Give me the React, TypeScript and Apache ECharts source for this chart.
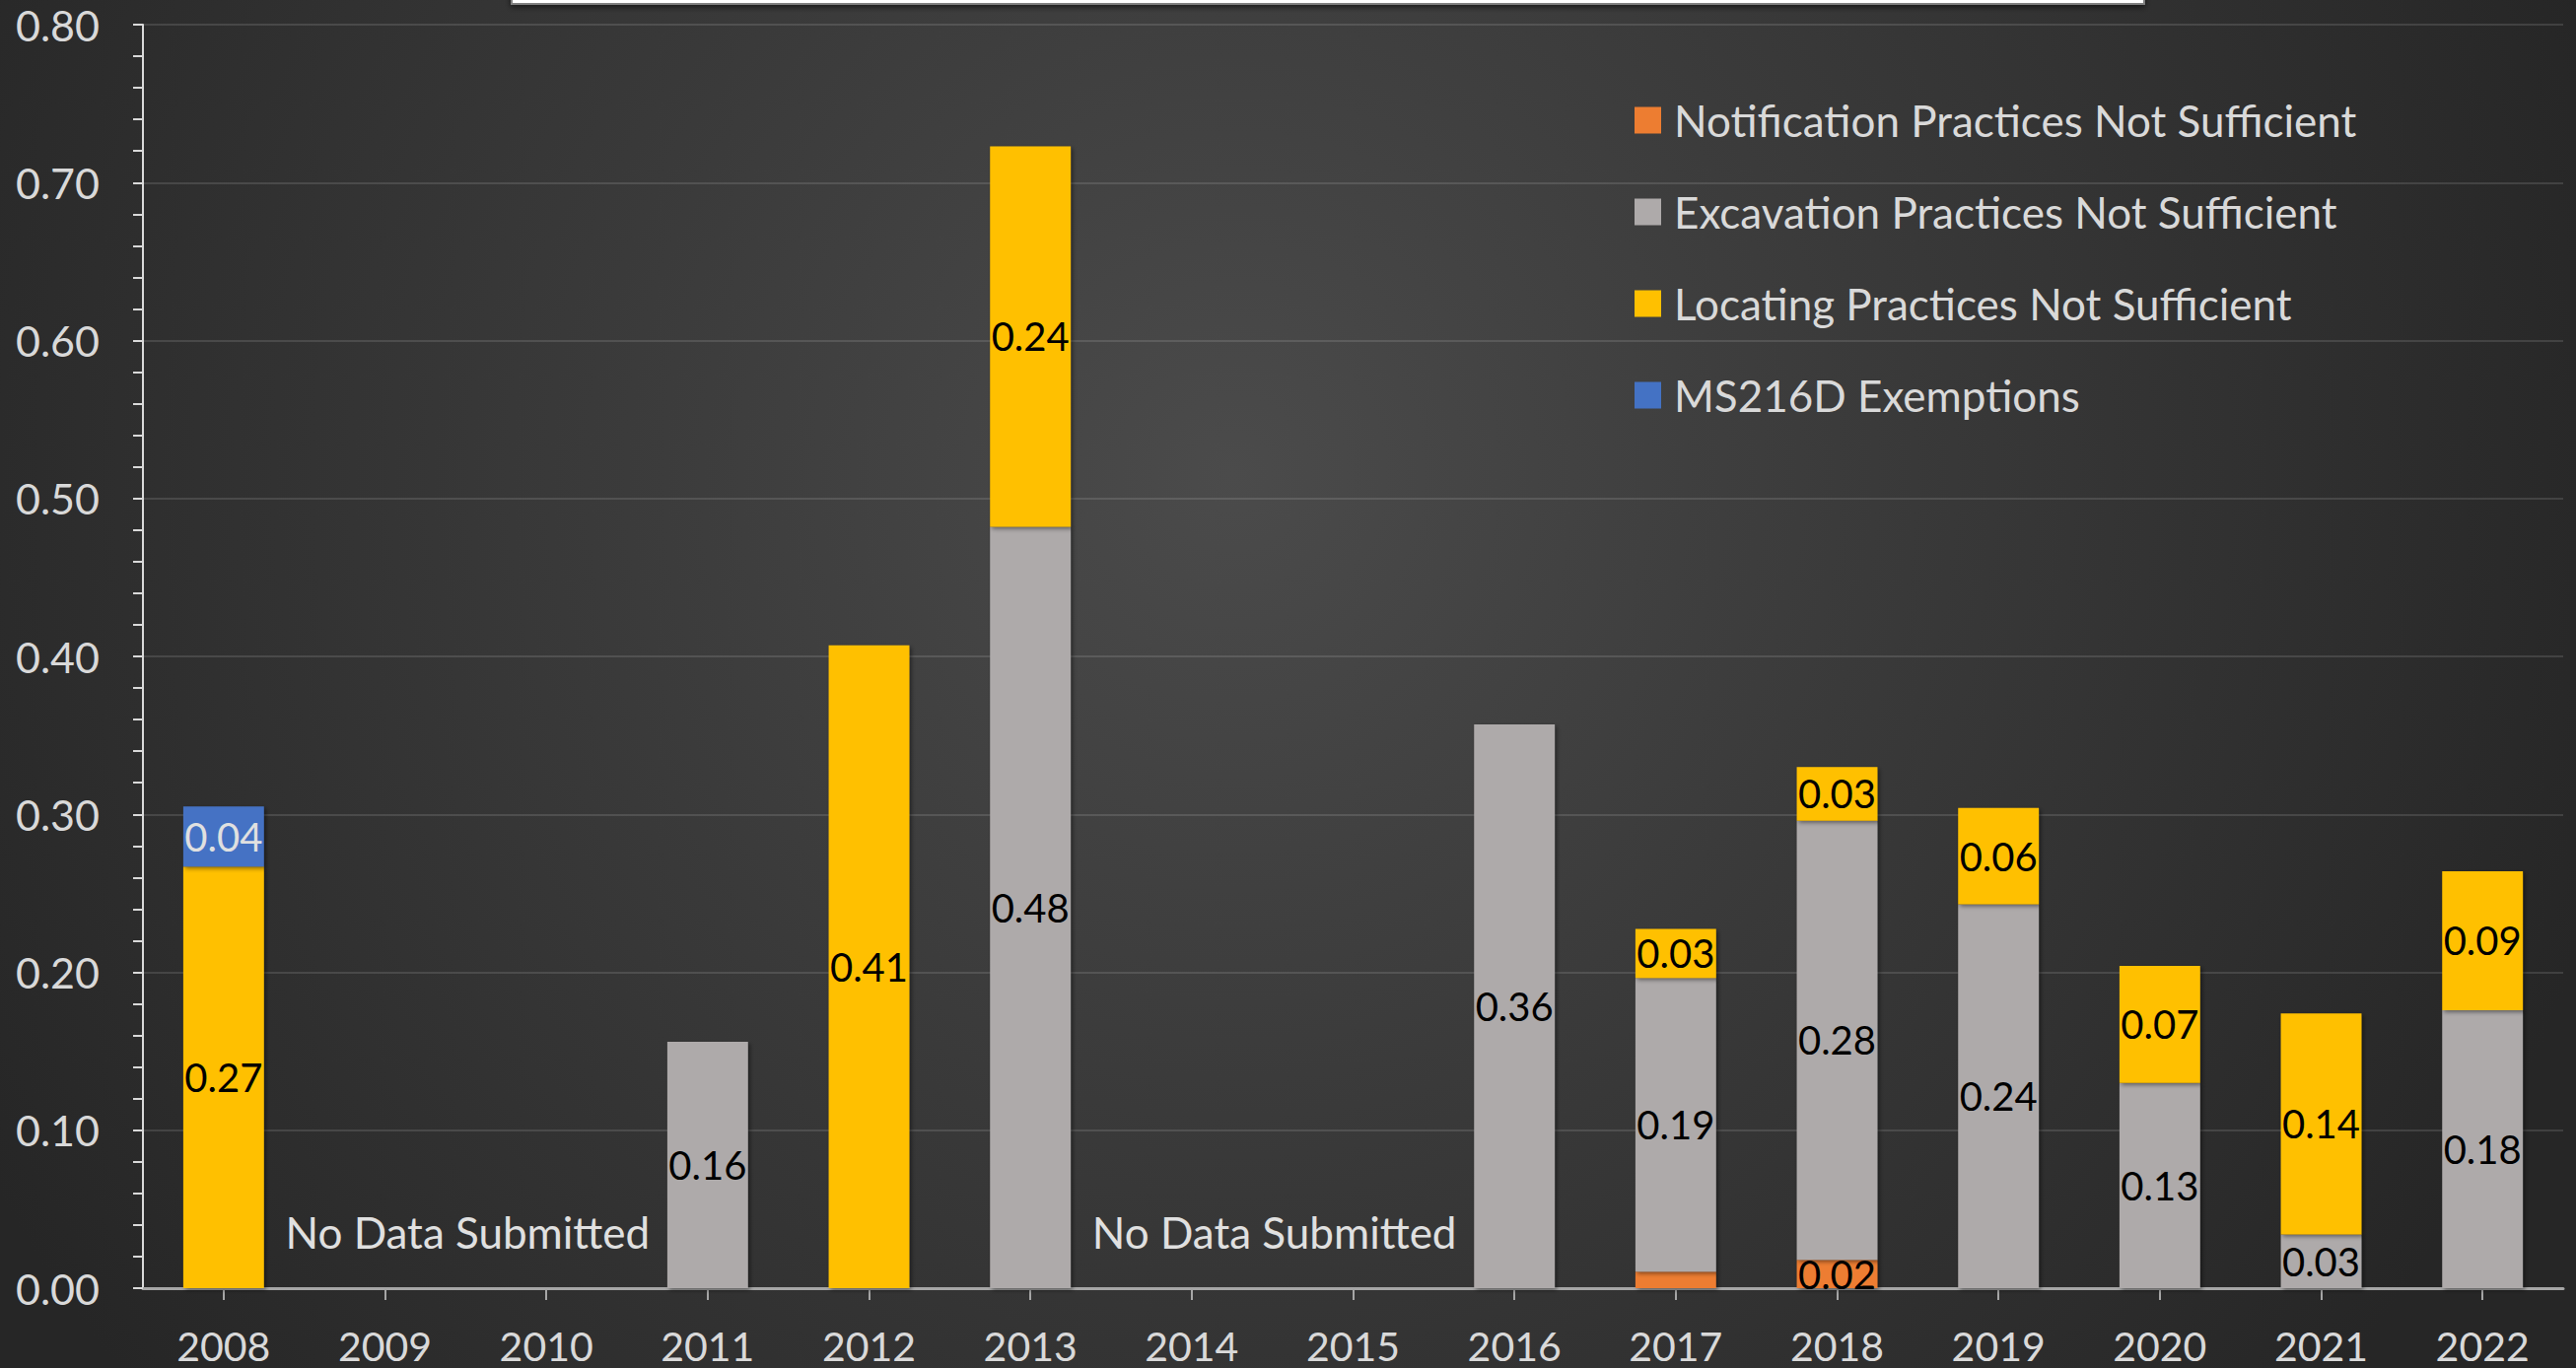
import React, { useEffect, useRef } from "react";
import * as echarts from "echarts";

const years = ["2008", "2009", "2010", "2011", "2012", "2013", "2014", "2015", "2016", "2017", "2018", "2019", "2020", "2021", "2022"];

const notificationName = "Notification Practices Not Sufficient";
const excavationName = "Excavation Practices Not Sufficient";
const locatingName = "Locating Practices Not Sufficient";
const exemptionsName = "MS216D Exemptions";

const notification = [null, null, null, null, null, null, null, null, null, 0.0104, 0.018, null, null, null, null];
const excavation = [null, null, null, 0.156, null, 0.482, null, null, 0.357, 0.186, 0.278, 0.243, 0.13, 0.034, 0.176];
const locating = [0.267, null, null, null, 0.407, 0.241, null, null, null, 0.031, 0.034, 0.061, 0.074, 0.14, 0.088];
const exemptions = [0.038, null, null, null, null, null, null, null, null, null, null, null, null, null, null];

const hiddenLabels = [{ series: notificationName, year: "2017" }];

const noDataNotes = [
  { from: "2009", to: "2010", value: 0.0356, text: "No Data Submitted" },
  { from: "2014", to: "2015", value: 0.0356, text: "No Data Submitted" },
];

const FONT = "Lato";
const LIGHT = "#d9d9d9";

export default function App() {
  const ref = useRef<HTMLDivElement>(null);

  useEffect(() => {
    document.body.style.margin = "0";
    const el = ref.current!;
    const chart = echarts.init(el, undefined, { renderer: "svg" });

    const mkSeries = (name: string, values: (number | null)[], color: string, labelColor: string) => ({
      name,
      type: "bar",
      stack: "total",
      barWidth: "50%",
      itemStyle: {
        color,
        shadowBlur: 4,
        shadowColor: "rgba(0,0,0,0.45)",
        shadowOffsetX: 2,
        shadowOffsetY: 2,
      },
      label: {
        show: true,
        position: "inside",
        color: labelColor,
        fontSize: 40,
        fontFamily: FONT,
        formatter: (p: any) => (p.value == null ? "" : Number(p.value).toFixed(2)),
      },
      data: values.map((v, i) => {
        const hide = hiddenLabels.some((h) => h.series === name && h.year === years[i]);
        return hide ? { value: v, label: { show: false } } : v;
      }),
    });

    chart.setOption({
      animation: false,
      backgroundColor: "transparent",
      grid: { left: 145, right: 13, top: 25, bottom: 81, containLabel: false },
      legend: {
        orient: "vertical",
        left: 1653,
        top: 95,
        icon: "rect",
        itemWidth: 27,
        itemHeight: 27,
        itemGap: 49,
        data: [notificationName, excavationName, locatingName, exemptionsName],
        textStyle: { color: LIGHT, fontSize: 44, fontFamily: FONT, lineHeight: 44, padding: [0, 0, 0, 8] },
      },
      xAxis: {
        type: "category",
        data: years,
        axisLine: { show: true, lineStyle: { color: "#a6a6a6", width: 3 } },
        axisTick: { show: true, alignWithLabel: true, length: 12, lineStyle: { color: "#a6a6a6", width: 2 } },
        axisLabel: { color: LIGHT, fontSize: 41, fontFamily: FONT, margin: 41, lineHeight: 34, interval: 0 },
        splitLine: { show: false },
      },
      yAxis: {
        type: "value",
        min: 0,
        max: 0.8,
        interval: 0.1,
        axisLine: { show: true, lineStyle: { color: LIGHT, width: 2 } },
        axisTick: { show: true, length: 10, lineStyle: { color: LIGHT, width: 2 } },
        minorTick: { show: true, splitNumber: 5, length: 10, lineStyle: { color: LIGHT, width: 2 } },
        minorSplitLine: { show: false },
        splitLine: { show: true, lineStyle: { color: "rgba(255,255,255,0.12)", width: 2 } },
        axisLabel: {
          color: LIGHT,
          fontSize: 43,
          fontFamily: FONT,
          margin: 44,
          formatter: (v: number) => v.toFixed(2),
        },
      },
      series: [
        mkSeries(notificationName, notification, "#ED7D31", "#000000"),
        mkSeries(excavationName, excavation, "#AEAAAA", "#000000"),
        mkSeries(locatingName, locating, "#FFC000", "#000000"),
        mkSeries(exemptionsName, exemptions, "#4472C4", "#e0e0e0"),
      ],
    });

    const notes = noDataNotes.map((n) => {
      const a = chart.convertToPixel({ xAxisIndex: 0, yAxisIndex: 0 }, [n.from, n.value]) as number[];
      const b = chart.convertToPixel({ xAxisIndex: 0, yAxisIndex: 0 }, [n.to, n.value]) as number[];
      return {
        type: "text",
        x: (a[0] + b[0]) / 2 + 2,
        y: a[1],
        style: {
          text: n.text,
          fill: "#e0e0e0",
          fontSize: 44,
          fontFamily: FONT,
          align: "center",
          verticalAlign: "middle",
        },
      };
    });

    chart.setOption({
      graphic: [
        {
          type: "rect",
          shape: { x: 519, y: -24, width: 1656, height: 28 },
          style: {
            fill: "#ffffff",
            stroke: "#808080",
            lineWidth: 2,
            shadowBlur: 6,
            shadowColor: "rgba(0,0,0,0.6)",
            shadowOffsetY: 2,
          },
        },
        ...notes,
      ],
    });

    return () => chart.dispose();
  }, []);

  return (
    <div
      ref={ref}
      style={{
        width: 2613,
        height: 1388,
        background: "radial-gradient(circle 1450px at 1250px 480px, #4b4b4b 0%, #3a3a3a 45%, #262626 100%)",
      }}
    />
  );
}
